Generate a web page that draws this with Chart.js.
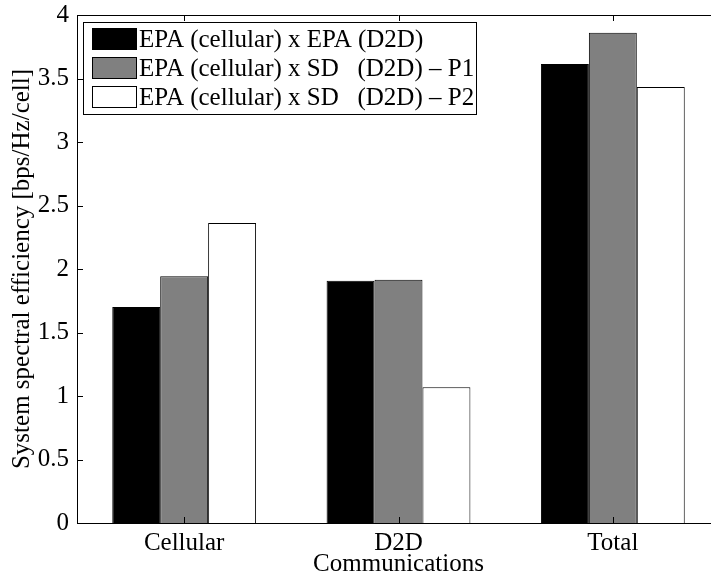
<!DOCTYPE html>
<html>
<head>
<meta charset="utf-8">
<script src="https://cdn.jsdelivr.net/npm/chart.js@4/dist/chart.umd.min.js"></script>
<style>
  html, body { margin: 0; padding: 0; background: #fff; overflow: hidden; }
  #wrap { width: 740px; height: 578px; }
</style>
</head>
<body>
<div id="wrap"><canvas id="c"></canvas></div>
<script>
const categories = ["Cellular", "D2D", "Total"];
const seriesNames = [
  "EPA (cellular) x EPA (D2D)",
  "EPA (cellular) x SD   (D2D) \u2013 P1",
  "EPA (cellular) x SD   (D2D) \u2013 P2"
];
const epaEpa = [1.70, 1.908, 3.614];
const epaSdP1 = [1.942, 1.916, 3.861];
const epaSdP2 = [2.362, 1.068, 3.433];
const yTicks = [0, 0.5, 1, 1.5, 2, 2.5, 3, 3.5, 4];

const serif = "'Liberation Serif', 'Times New Roman', serif";
const fills = ["#000000", "#808080", "#ffffff"];

// MATLAB-style box: inward ticks, top border, legend box in upper left
const boxPlugin = {
  id: "box",
  afterDraw(chart) {
    const { ctx, chartArea: a, scales } = chart;
    ctx.save();
    ctx.strokeStyle = "#000";
    ctx.lineWidth = 1;
    ctx.beginPath();
    ctx.moveTo(a.left, a.top + 0.5);
    ctx.lineTo(a.right, a.top + 0.5);
    yTicks.forEach(v => {
      const y = Math.round(scales.y.getPixelForValue(v)) + 0.5;
      ctx.moveTo(a.left, y);
      ctx.lineTo(a.left + 6, y);
      ctx.moveTo(a.right, y);
      ctx.lineTo(a.right - 6, y);
    });
    categories.forEach((c, i) => {
      const x = Math.round(scales.x.getPixelForValue(i)) + 0.5;
      ctx.moveTo(x, a.bottom);
      ctx.lineTo(x, a.bottom - 6);
      ctx.moveTo(x, a.top);
      ctx.lineTo(x, a.top + 6);
    });
    ctx.stroke();

    // legend
    const lx = 83, ly = 22, lw = 393, lh = 92;
    ctx.fillStyle = "#fff";
    ctx.fillRect(lx, ly, lw, lh);
    ctx.strokeRect(lx + 0.5, ly + 0.5, lw, lh);
    ctx.font = "25px " + serif;
    ctx.textBaseline = "middle";
    chart.data.datasets.forEach((ds, i) => {
      const cy = ly + 17 + i * 29;
      ctx.fillStyle = ds.backgroundColor;
      ctx.fillRect(92, cy - 11, 44, 21);
      ctx.strokeStyle = "#000";
      ctx.strokeRect(92.5, cy - 10.5, 44, 21);
      ctx.fillStyle = "#000";
      ctx.fillText(ds.label, 139, cy + 1);
    });
    ctx.restore();
  }
};

new Chart(document.getElementById("c"), {
  type: "bar",
  data: {
    labels: categories,
    datasets: [epaEpa, epaSdP1, epaSdP2].map((d, i) => ({
      label: seriesNames[i],
      data: d,
      backgroundColor: fills[i],
      borderColor: "#000",
      borderWidth: 1,
      categoryPercentage: 0.671,
      barPercentage: 1
    }))
  },
  options: {
    responsive: true,
    maintainAspectRatio: false,
    animation: false,
    layout: { padding: { left: 0, right: 20, top: 15, bottom: 0 } },
    plugins: { legend: { display: false }, tooltip: { enabled: false } },
    scales: {
      x: {
        grid: { display: false },
        border: { color: "#000", width: 1 },
        ticks: { color: "#000", font: { family: serif, size: 25, lineHeight: 1 }, padding: 0, maxRotation: 0 },
        title: { display: true, text: "Communications", color: "#000", font: { family: serif, size: 25, lineHeight: 1 }, padding: { top: 0, bottom: 1 } },
        afterFit(s) { s.height = 55; }
      },
      y: {
        min: 0, max: 4,
        afterBuildTicks(s) { s.ticks = yTicks.map(v => ({ value: v })); },
        grid: { display: false },
        border: { color: "#000", width: 1 },
        ticks: { color: "#000", font: { family: serif, size: 25 }, padding: 0, callback: v => String(v) },
        title: { display: true, text: "System spectral efficiency [bps/Hz/cell]", color: "#000", font: { family: serif, size: 25, lineHeight: 1 }, padding: { top: 10, bottom: 0 } },
        afterFit(s) { s.width = 77; }
      }
    }
  },
  plugins: [boxPlugin]
});
</script>
</body>
</html>
